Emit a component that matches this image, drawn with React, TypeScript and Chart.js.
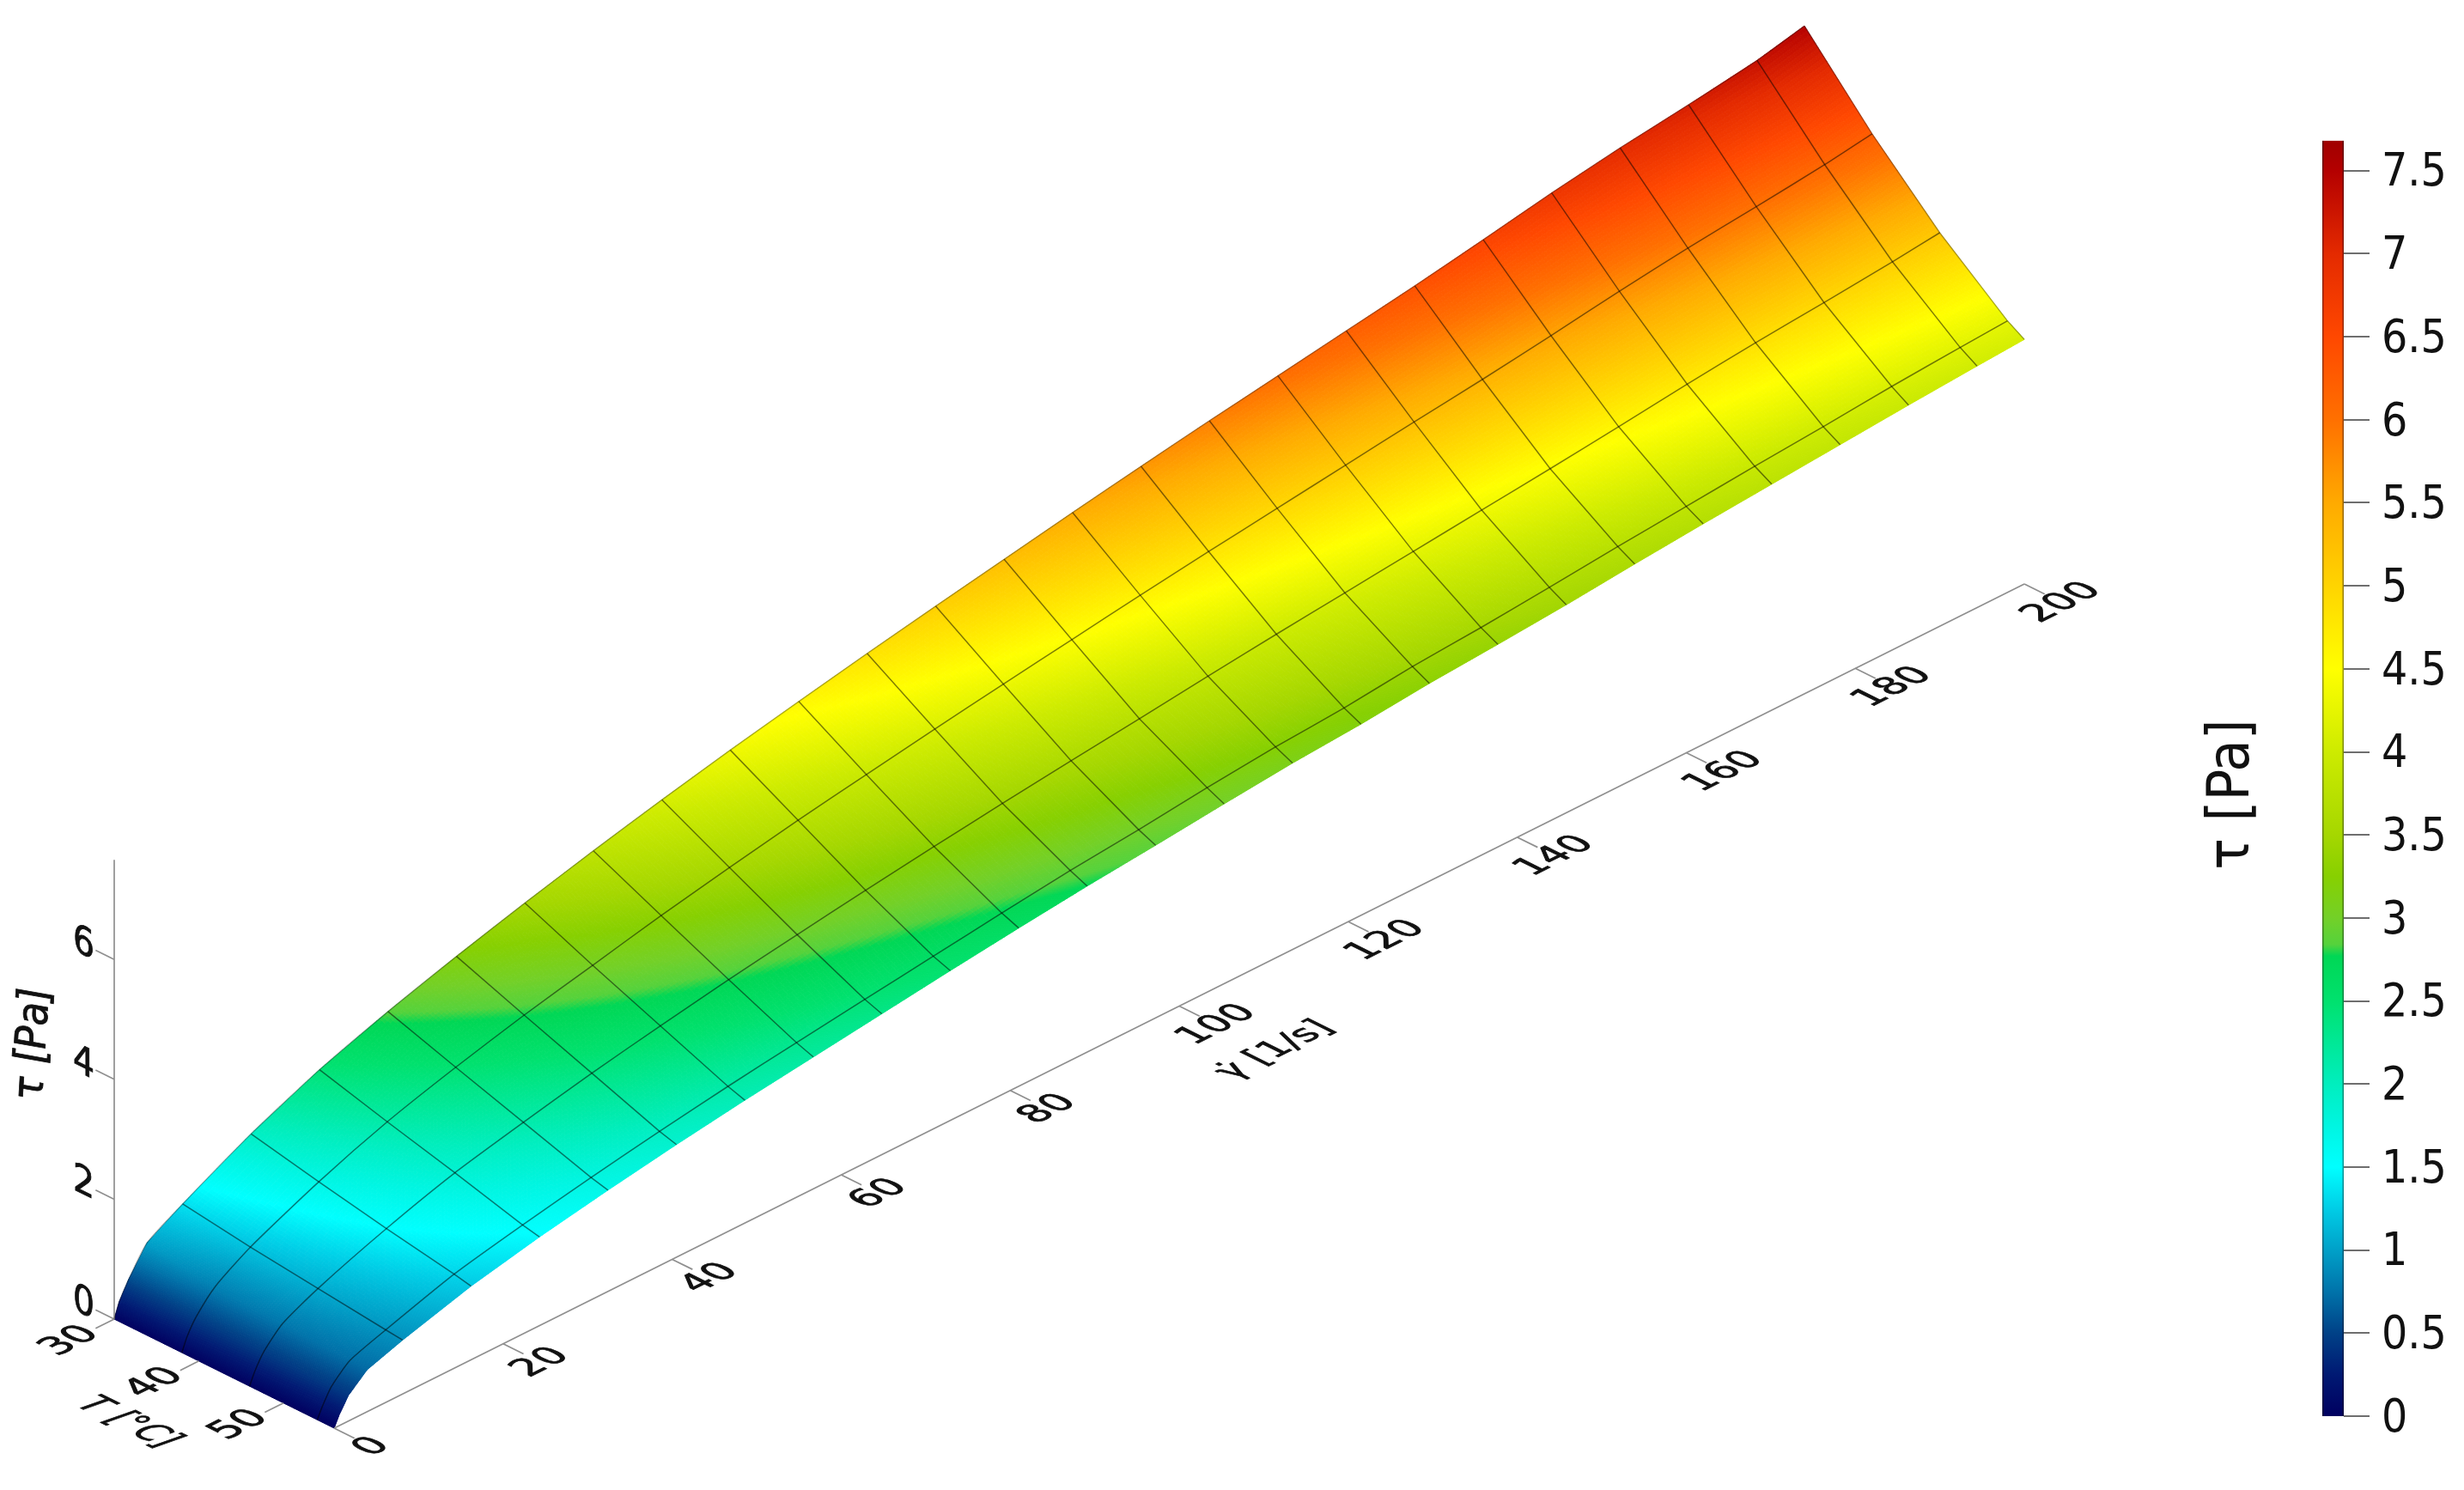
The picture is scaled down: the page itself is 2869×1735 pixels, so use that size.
import React, { useEffect, useRef } from "react";
import { Chart, registerables } from "chart.js";

Chart.register(...registerables);

const WIDTH = 2869;
const HEIGHT = 1735;
const COND = '"DejaVu Sans Condensed", "DejaVu Sans"';

// shear-rate stations of the surface [1/s]
const rateColumns = [0, 0.6, 1.7, 3.9, 8.1, 16.2, 24.3, 32.4, 40.5, 48.6, 56.7, 64.8, 72.9, 81, 89.1, 97.2, 105.3, 113.4, 121.5, 129.6, 137.7, 145.8, 153.9, 162, 170.1, 178.2, 186.3, 194.4, 200];
// temperature stations [°C]
const tempRows = [30, 38, 46, 54, 56];
// shear stress read from the surface [Pa], one list per temperature
const tauAt30 = [0, 0.25, 0.54, 1.0, 1.35, 1.95, 2.45, 2.85, 3.2, 3.52, 3.82, 4.1, 4.36, 4.6, 4.83, 5.05, 5.26, 5.47, 5.67, 5.86, 6.04, 6.22, 6.4, 6.6, 6.81, 6.99, 7.14, 7.31, 7.49];
const tauAt38 = [0, 0.22, 0.48, 0.82, 1.19, 1.71, 2.14, 2.48, 2.78, 3.04, 3.3, 3.53, 3.75, 3.94, 4.13, 4.31, 4.48, 4.65, 4.81, 4.96, 5.11, 5.26, 5.4, 5.56, 5.73, 5.88, 6.0, 6.13, 6.25];
const tauAt46 = [0, 0.2, 0.46, 0.77, 1.06, 1.49, 1.85, 2.12, 2.37, 2.59, 2.79, 2.97, 3.14, 3.3, 3.45, 3.59, 3.72, 3.86, 3.99, 4.11, 4.23, 4.35, 4.47, 4.6, 4.74, 4.86, 4.96, 5.07, 5.16];
const tauAt54 = [0, 0.18, 0.44, 0.72, 0.93, 1.29, 1.54, 1.76, 1.96, 2.14, 2.3, 2.45, 2.6, 2.75, 2.89, 3.0, 3.13, 3.24, 3.32, 3.44, 3.52, 3.62, 3.73, 3.83, 3.93, 4.02, 4.12, 4.2, 4.25];
const tauAt56 = [0, 0.18, 0.43, 0.7, 0.9, 1.23, 1.48, 1.69, 1.88, 2.05, 2.2, 2.35, 2.5, 2.64, 2.77, 2.88, 3.0, 3.11, 3.19, 3.3, 3.38, 3.47, 3.58, 3.68, 3.77, 3.86, 3.95, 4.03, 4.08];
const tauRows = [tauAt30, tauAt38, tauAt46, tauAt54, tauAt56];

const rateTicks = [0, 20, 40, 60, 80, 100, 120, 140, 160, 180, 200];
const tempTicks = [30, 40, 50];
const tauTicks = [0, 2, 4, 6];
const colorbarTicks = [0, 0.5, 1, 1.5, 2, 2.5, 3, 3.5, 4, 4.5, 5, 5.5, 6, 6.5, 7, 7.5];

// [tau, r, g, b]
const palette = [
  [0, 0, 0, 96], [0.25, 0, 25, 115], [0.5, 0, 65, 135], [0.75, 0, 115, 170], [1, 0, 160, 200], [1.25, 0, 205, 230], [1.5, 0, 255, 255],
  [1.75, 0, 245, 225], [2, 0, 238, 190], [2.25, 0, 232, 150], [2.5, 0, 225, 110], [2.77, 0, 215, 85], [2.84, 85, 210, 60], [3, 115, 208, 40],
  [3.25, 135, 208, 0], [3.5, 165, 215, 0], [4, 205, 235, 0], [4.5, 255, 255, 0], [5, 255, 212, 0], [5.5, 255, 170, 0], [6, 255, 112, 0],
  [6.5, 255, 72, 0], [7, 228, 42, 0], [7.5, 180, 0, 0], [7.68, 160, 0, 0],
];

function colorOf(tau: number): string {
  let i = 0;
  while (i < palette.length - 2 && tau > palette[i + 1][0]) i++;
  const a = palette[i];
  const b = palette[i + 1];
  const f = Math.max(0, Math.min(1, (tau - a[0]) / (b[0] - a[0])));
  return `rgb(${a[1] + (b[1] - a[1]) * f},${a[2] + (b[2] - a[2]) * f},${a[3] + (b[3] - a[3]) * f})`;
}

// oblique projection of (rate, T, tau) on the plot plane
function project(rate: number, temp: number, tau: number) {
  return {
    x: 133 + 9.84 * rate + 9.85 * (temp - 30),
    y: 1536 - 4.915 * rate + 4.885 * (temp - 30) - 69.8 * tau,
  };
}

const RATE_DIR = [0.895, -0.447];
const TEMP_DIR = [0.896, 0.444];

function planeText(ctx: any, text: string, x: number, y: number, ax: number[], ay: number[], font: string, bold = 0.8) {
  ctx.save();
  ctx.transform(ax[0], ax[1], ay[0], ay[1], x, y);
  ctx.font = font;
  ctx.fillStyle = "#111";
  ctx.strokeStyle = "#111";
  ctx.lineWidth = bold;
  ctx.textAlign = "center";
  ctx.textBaseline = "middle";
  ctx.fillText(text, 0, 0);
  if (bold > 0) ctx.strokeText(text, 0, 0);
  ctx.restore();
}

const surfacePlugin = {
  id: "surface",
  beforeDatasetsDraw(chart: any) {
    const { ctx, scales } = chart;
    const px = (r: number, t: number, v: number) => {
      const p = project(r, t, v);
      return [scales.x.getPixelForValue(p.x), scales.y.getPixelForValue(p.y)];
    };
    const NU = 24;
    const NV = 24;
    ctx.save();
    ctx.lineWidth = 1;
    for (let j = 0; j < tempRows.length - 1; j++) {
      for (let i = 0; i < rateColumns.length - 1; i++) {
        const r0 = rateColumns[i], r1 = rateColumns[i + 1];
        const t0 = tempRows[j], t1 = tempRows[j + 1];
        const a = tauRows[j][i], b = tauRows[j][i + 1], c = tauRows[j + 1][i], d = tauRows[j + 1][i + 1];
        const val = (u: number, v: number) => (a * (1 - u) + b * u) * (1 - v) + (c * (1 - u) + d * u) * v;
        const pt = (u: number, v: number) => px(r0 + (r1 - r0) * u, t0 + (t1 - t0) * v, val(u, v));
        for (let m = 0; m < NU; m++) {
          for (let n = 0; n < NV; n++) {
            const u0 = m / NU, u1 = (m + 1) / NU, v0 = n / NV, v1 = (n + 1) / NV;
            const col = colorOf(val((u0 + u1) / 2, (v0 + v1) / 2));
            ctx.fillStyle = col;
            ctx.strokeStyle = col;
            ctx.beginPath();
            const p1 = pt(u0, v0), p2 = pt(u1, v0), p3 = pt(u1, v1), p4 = pt(u0, v1);
            ctx.moveTo(p1[0], p1[1]);
            ctx.lineTo(p2[0], p2[1]);
            ctx.lineTo(p3[0], p3[1]);
            ctx.lineTo(p4[0], p4[1]);
            ctx.closePath();
            ctx.fill();
            ctx.stroke();
          }
        }
      }
    }
    ctx.restore();

    // colour bar, on its own value scale
    const cb = scales.cb;
    const top = cb.getPixelForValue(7.68);
    const bottom = cb.getPixelForValue(0);
    const grad = ctx.createLinearGradient(0, bottom, 0, top);
    palette.forEach((s) => grad.addColorStop(s[0] / 7.68, `rgb(${s[1]},${s[2]},${s[3]})`));
    ctx.save();
    ctx.fillStyle = grad;
    ctx.fillRect(cb.left - 25, top, 25, bottom - top);
    ctx.fillStyle = "rgba(0,0,0,0.4)";
    ctx.fillRect(cb.left - 25, top, 1.5, bottom - top);
    ctx.fillRect(cb.left - 1.5, top, 1.5, bottom - top);
    ctx.restore();
  },
  afterDatasetsDraw(chart: any) {
    const { ctx, scales } = chart;
    const at = (r: number, t: number, v: number) => {
      const p = project(r, t, v);
      return [scales.x.getPixelForValue(p.x), scales.y.getPixelForValue(p.y)];
    };
    const tickFont = `40px ${COND}`;
    const up = (k: number) => [TEMP_DIR[0] * k, TEMP_DIR[1] * k];
    rateTicks.forEach((r) => {
      const p = at(r, 60.5, 0);
      planeText(ctx, String(r), p[0], p[1], [RATE_DIR[0] * 1.22, RATE_DIR[1] * 1.22], up(1.1), tickFont);
    });
    tempTicks.forEach((t) => {
      const p = at(-5.2, t, 0);
      planeText(ctx, String(t), p[0], p[1], [RATE_DIR[0] * 1.25, RATE_DIR[1] * 1.25], up(1.12), tickFont);
    });
    tauTicks.forEach((v) => {
      const p = at(0, 26.4, v);
      planeText(ctx, String(v), p[0], p[1], [0.95, 0.47], [0, 1], `46px ${COND}`);
    });
    // axis titles
    planeText(ctx, "γ̇ [1/s]", scales.x.getPixelForValue(1485), scales.y.getPixelForValue(1223), [RATE_DIR[0] * 1.17, RATE_DIR[1] * 1.17], up(1.05), `40px ${COND}`);
    planeText(ctx, "T [°C]", scales.x.getPixelForValue(149), scales.y.getPixelForValue(1657), [TEMP_DIR[0], TEMP_DIR[1]], [-RATE_DIR[0], -RATE_DIR[1]], `italic 44px ${COND}`);
    planeText(ctx, "τ [Pa]", scales.x.getPixelForValue(40), scales.y.getPixelForValue(1215), [0.06, -1], [1, 0], `italic 50px ${COND}`);
    planeText(ctx, "τ [Pa]", scales.x.getPixelForValue(2600), scales.y.getPixelForValue(925), [0, -1], [1, 0], `68px ${COND}`, 0);
  },
};

function line(points: { x: number; y: number }[], color: string, width: number, tension = 0) {
  return { data: points, borderColor: color, borderWidth: width, pointRadius: 0, showLine: true, fill: false, tension };
}

export default function App() {
  const ref = useRef<HTMLCanvasElement>(null);
  useEffect(() => {
    if (!ref.current) return;
    const datasets: any[] = [];
    const GRID = "rgba(0,0,0,0.5)";
    const AXIS = "#8f8f8f";
    // constant-temperature lines
    tempRows.forEach((t, j) => {
      if (j === 0 || j === tempRows.length - 1) return;
      datasets.push(line(rateColumns.map((r, i) => project(r, t, tauRows[j][i])), GRID, 1.5, 0.2));
    });
    // constant-rate lines
    rateColumns.forEach((r, i) => {
      if (i < 4 || i === rateColumns.length - 1) return;
      datasets.push(line(tempRows.map((t, j) => project(r, t, tauRows[j][i])), GRID, 1.5));
    });
    // surface outline
    datasets.push(line(rateColumns.map((r, i) => project(r, 30, tauAt30[i])), "rgba(0,0,0,0.3)", 1.5, 0.2));
    datasets.push(line(tempRows.map((t, j) => project(200, t, tauRows[j][rateColumns.length - 1])), "rgba(0,0,0,0.3)", 1.5));
    // axes
    datasets.push(line([project(0, 56, 0), project(200, 56, 0)], AXIS, 1.7));
    datasets.push(line([project(0, 30, 0), project(0, 30, 7.66)], AXIS, 1.7));
    rateTicks.forEach((r) => datasets.push(line([project(r, 56, 0), project(r, 58.4, 0)], AXIS, 1.7)));
    tempTicks.forEach((t) => datasets.push(line([project(0, t, 0), project(-2.2, t, 0)], AXIS, 1.7)));
    tauTicks.forEach((v) => datasets.push(line([project(0, 30, v), project(0, 27.8, v)], AXIS, 1.7)));

    const unit = (1649 - 198.7) / 7.5;
    const chart = new Chart(ref.current, {
      type: "scatter",
      data: { datasets },
      plugins: [surfacePlugin],
      options: {
        animation: false,
        responsive: false,
        devicePixelRatio: 1,
        layout: { padding: 0 },
        plugins: { legend: { display: false }, tooltip: { enabled: false }, title: { display: false } },
        scales: {
          x: { type: "linear", display: false, min: 0, max: WIDTH - 140 },
          y: { type: "linear", display: false, min: 0, max: HEIGHT, reverse: true },
          cb: {
            type: "linear",
            axis: "y",
            position: "right",
            min: -(HEIGHT - 1649) / unit,
            max: 1649 / unit,
            afterBuildTicks: (s: any) => {
              s.ticks = colorbarTicks.map((v) => ({ value: v }));
            },
            afterFit: (s: any) => {
              s.width = 140;
              s.paddingTop = 0;
              s.paddingBottom = 0;
            },
            grid: { drawOnChartArea: false, color: "#6e6e6e", lineWidth: 2, tickLength: 30, drawTicks: true },
            border: { display: false },
            ticks: {
              autoSkip: false,
              padding: 14,
              labelOffset: 4,
              color: "#111",
              maxRotation: 0,
              font: { family: COND, size: 53 },
              callback: (v: any) => String(v),
            },
          },
        },
      } as any,
    } as any);
    return () => chart.destroy();
  }, []);
  return <canvas ref={ref} width={WIDTH} height={HEIGHT} style={{ position: "absolute", left: 0, top: 0, display: "block", filter: "blur(0.6px)" }} />;
}
